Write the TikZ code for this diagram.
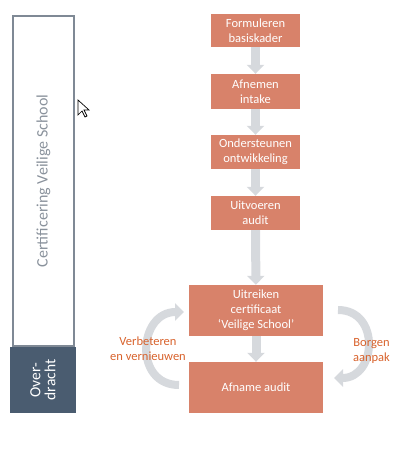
\documentclass[tikz,border=0pt]{standalone}
\usepackage{fontspec}
\setmainfont{Carlito}
\usetikzlibrary{arrows.meta}
\definecolor{stapkleur}{RGB}{216,130,106}
\definecolor{pijlkleur}{RGB}{214,217,221}
\definecolor{oranje}{RGB}{216,98,44}
\definecolor{kaderrand}{RGB}{127,137,149}
\definecolor{kadertekst}{RGB}{138,146,156}
\definecolor{donker}{RGB}{74,92,112}

\begin{document}
\begin{tikzpicture}[x=1pt,y=1pt,yscale=-1,xscale=1,
  stap/.style={fill=stapkleur, text=white, align=center, inner sep=0pt, minimum width=89pt, font=\fontsize{12.5}{15}\selectfont},
  pijl/.style={draw=pijlkleur, line width=9pt, -{Triangle[width=17pt,length=9pt]}},
  rondje/.style={draw=pijlkleur, line width=8pt, looseness=1.6, -{Triangle[width=17pt,length=9pt]}},
  label/.style={text=oranje, align=center, font=\fontsize{12.5}{15}\selectfont}
]
\useasboundingbox (0,0) rectangle (413,464); %set diagram size to the reference

%Shape: Rectangle [kader]
\node[draw=kaderrand, line width=2pt, rotate=90, minimum width=330pt, minimum height=61pt, inner sep=0pt, text=kadertekst, font=\fontsize{16}{18}\selectfont] (certificering) at (43.5,181) {Certificering Veilige School};
%Shape: Rectangle [overdracht]
\node[fill=donker, rotate=90, minimum width=66pt, minimum height=66pt, inner sep=0pt, text=white, align=center, font=\fontsize{15.5}{15}\selectfont] (overdracht) at (43,380) {Over-\\dracht};

%Shape: Cursor
\draw[fill=white, line width=0.7pt, line join=miter] (78,100) -- ++(0,15) -- ++(4,-4) -- ++(3,6) -- ++(2,-1) -- ++(-3,-6) -- ++(5,0) -- cycle;

%Shape: Steps
\node[stap, minimum height=33pt] (formuleren) at (255.5,30.5) {Formuleren\\basiskader};
\node[stap, minimum height=35pt] (afnemen) at (255.5,91.5) {Afnemen\\intake};
\node[stap, minimum height=34pt] (ondersteunen) at (255.5,152) {Ondersteunen\\ontwikkeling};
\node[stap, minimum height=34pt] (uitvoeren) at (255.5,213) {Uitvoeren\\audit};
\node[stap, minimum width=134pt, minimum height=51pt] (uitreiken) at (256,310.5) {Uitreiken\\certificaat\\`Veilige School'};
\node[stap, minimum width=134pt, minimum height=51pt] (afname) at (256,387.5) {Afname audit};

%Straight Lines
\draw[pijl] (formuleren) -- (afnemen);
\draw[pijl] (afnemen) -- (ondersteunen);
\draw[pijl] (ondersteunen) -- (uitvoeren);
\draw[pijl] (uitvoeren) -- (uitreiken);
\draw[pijl] (uitreiken) -- (afname);

%Curve Lines
\coordinate (vb-start) at (179,385);
\coordinate (vb-end) at (184,312);
\coordinate (ba-start) at (338,310);
\coordinate (ba-end) at (334,378);
\draw[rondje] (vb-start) to[out=180,in=180] (vb-end);
\draw[rondje] (ba-start) to[out=0,in=0] (ba-end);

%Labels
\node[label] (verbeteren) at (148,349) {Verbeteren\\en vernieuwen};
\node[label] (borgen) at (371.5,350.5) {Borgen\\aanpak};

\end{tikzpicture}
\end{document}
